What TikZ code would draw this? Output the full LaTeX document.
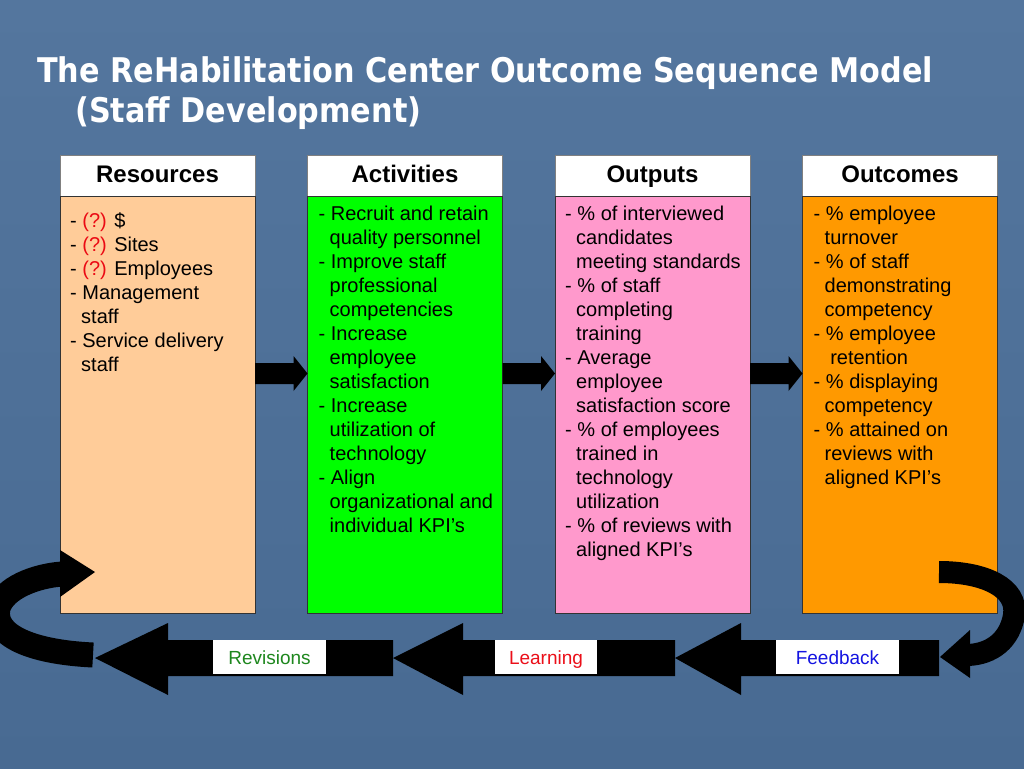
\documentclass[tikz,border=0pt]{standalone}
\usepackage{fontspec}
\setmainfont{Liberation Sans}
\newfontfamily\titlefont{DejaVu Sans}[FakeStretch=0.89]
\usetikzlibrary{positioning}

\definecolor{slidetop}{RGB}{84,118,158}
\definecolor{slidebot}{RGB}{72,106,146}
\definecolor{resfill}{RGB}{255,204,153}
\definecolor{actfill}{RGB}{0,255,0}
\definecolor{outfill}{RGB}{255,153,204}
\definecolor{occfill}{RGB}{255,153,0}
\definecolor{qmark}{RGB}{235,10,20}
\definecolor{revcol}{RGB}{30,135,30}
\definecolor{learncol}{RGB}{235,15,25}
\definecolor{feedcol}{RGB}{20,20,225}

\newcommand{\hg}{\hspace*{11pt}}
\newcommand{\qm}{\textcolor{qmark}{(?)}}

\tikzset{
  head/.style={draw=black!50, fill=white, minimum width=195pt, minimum height=41pt,
    inner sep=0pt, outer sep=0pt, text height=18pt, text depth=4pt,
    font=\fontsize{24}{28}\selectfont\bfseries},
  colbox/.style={draw=black!80, line width=0.8pt, minimum width=195pt, minimum height=417pt,
    inner sep=0pt, outer sep=0pt},
  items/.style={anchor=north west, align=left, inner sep=0pt, font=\fontsize{20}{24}\selectfont},
  tag/.style={fill=white, minimum height=34pt, inner sep=0pt, text height=16pt, text depth=2pt,
    font=\fontsize{19}{22}\selectfont},
  heading/.style={anchor=base west, inner sep=0pt, text=white,
    font=\titlefont\bfseries\fontsize{34}{40}\selectfont},
}

\begin{document}
\begin{tikzpicture}[x=1pt,y=-1pt]
\useasboundingbox (0,0) rectangle (1024,768);
\clip (0,0) rectangle (1024,768);
\shade[top color=slidetop, bottom color=slidebot] (0,0) rectangle (1024,768);

% title
\node[heading] (title) at (37,82) {The ReHabilitation Center Outcome Sequence Model};
\node[heading] (subtitle) at (75,122) {(Staff Development)};

% columns
\node[head, anchor=north west] (reshead) at (60,155) {Resources};
\node[head, right=52.5pt of reshead] (acthead) {Activities};
\node[head, right=52.5pt of acthead] (outhead) {Outputs};
\node[head, right=52.5pt of outhead] (occhead) {Outcomes};

\node[colbox, fill=resfill, below=0pt of reshead] (res) {};
\node[colbox, fill=actfill, below=0pt of acthead] (act) {};
\node[colbox, fill=outfill, below=0pt of outhead] (out) {};
\node[colbox, fill=occfill, below=0pt of occhead] (occ) {};

\node[items] (restext) at ([xshift=10pt,yshift=-16pt]res.north west)
  {- \qm{} \$\\- \qm{} Sites\\- \qm{} Employees\\- Management\\\hg staff\\- Service delivery\\\hg staff};
\node[items] (acttext) at ([xshift=11pt,yshift=-10pt]act.north west)
  {- Recruit and retain\\\hg quality personnel\\- Improve staff\\\hg professional\\\hg competencies\\- Increase\\\hg employee\\\hg satisfaction\\- Increase\\\hg utilization of\\\hg technology\\- Align\\\hg organizational and\\\hg individual KPI’s};
\node[items] (outtext) at ([xshift=10pt,yshift=-10pt]out.north west)
  {- \% of interviewed\\\hg candidates\\\hg meeting standards\\- \% of staff\\\hg completing\\\hg training\\- Average\\\hg employee\\\hg satisfaction score\\- \% of employees\\\hg trained in\\\hg technology\\\hg utilization\\- \% of reviews with\\\hg aligned KPI’s};
\node[items] (occtext) at ([xshift=11pt,yshift=-10pt]occ.north west)
  {- \% employee\\\hg turnover\\- \% of staff\\\hg demonstrating\\\hg competency\\- \% employee\\\hg\ retention\\- \% displaying\\\hg competency\\- \% attained on\\\hg reviews with\\\hg aligned KPI’s};

% arrows between columns
\foreach \a/\b in {res/act,act/out,out/occ}{
  \coordinate (\b-neck) at ([xshift=-14pt]\b.west);
  \fill (\a.east |- 0,363) -- (\b-neck |- 0,363) -- (\b-neck |- 0,356) -- (\b.west |- 0,373.5)
    -- (\b-neck |- 0,391) -- (\b-neck |- 0,384) -- (\a.east |- 0,384) -- cycle;
}

% feedback loop
\foreach \tip/\neck/\tail in {95/168/393,393/463/675,675/741/939}{
  \fill (\tip,658) -- (\neck,623) -- (\neck,640) -- (\tail,640) -- (\tail,676) -- (\neck,676) -- (\neck,695) -- cycle;
}
\node[tag, minimum width=113pt, text=revcol] (revisions) at (269.5,657) {Revisions};
\node[tag, minimum width=102pt, text=learncol] (learning) at (546,657) {Learning};
\node[tag, minimum width=123pt, text=feedcol] (feedback) at (837.5,657) {Feedback};

\coordinate (occout) at (939,572);
\coordinate (loopin) at (968,655);
\coordinate (looptip) at (940,657);
\draw[line width=22pt] (occout) .. controls (985,572) and (1018,588) .. (1014,615)
  .. controls (1010,640) and (992,654) .. (loopin);
\fill (looptip) -- (970,630) -- (970,678) -- cycle;

\coordinate (revout) at (93,655);
\coordinate (resin) at (62,574);
\coordinate (restip) at (95,572);
\draw[line width=25pt] (revout) .. controls (30,652) and (-8,635) .. (-2,608)
  .. controls (4,588) and (35,576) .. (resin);
\fill (restip) -- (60,550) -- (60,597) -- cycle;
\end{tikzpicture}
\end{document}
